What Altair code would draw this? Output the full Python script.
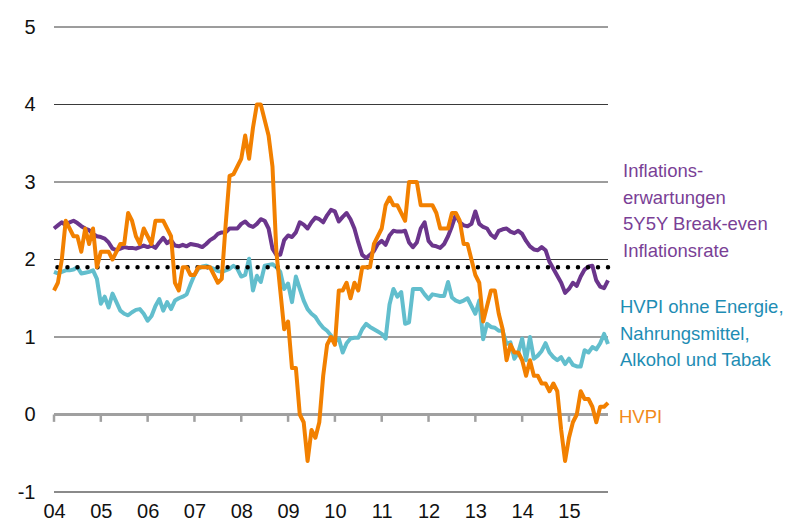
import altair as alt
import pandas as pd

# month index 0 = first observation (x tick "04"), one step per month
hvpi = [1.6, 1.7, 2.0, 2.5, 2.4, 2.3, 2.3, 2.1, 2.4, 2.2, 2.4,
        1.9, 2.1, 2.1, 2.1, 2.0, 2.1, 2.2, 2.2, 2.6, 2.5, 2.3, 2.2,
        2.4, 2.3, 2.2, 2.5, 2.5, 2.5, 2.4, 2.3, 1.7, 1.6, 1.9, 1.9,
        1.8, 1.8, 1.9, 1.9, 1.9, 1.9, 1.8, 1.7, 1.75, 2.45, 3.08, 3.1,
        3.2, 3.3, 3.6, 3.3, 3.7, 4.0, 4.0, 3.8, 3.6, 3.2, 2.1, 1.6,
        1.1, 1.2, 0.6, 0.6, 0.0, -0.1, -0.6, -0.2, -0.3, -0.1, 0.5, 0.9,
        1.0, 0.9, 1.6, 1.6, 1.7, 1.5, 1.7, 1.6, 1.9, 1.9, 1.9, 2.2,
        2.3, 2.4, 2.7, 2.8, 2.7, 2.7, 2.6, 2.5, 3.0, 3.0, 3.0, 2.7,
        2.7, 2.7, 2.7, 2.6, 2.4, 2.4, 2.4, 2.6, 2.6, 2.5, 2.2, 2.2,
        2.0, 1.8, 1.7, 1.2, 1.4, 1.6, 1.6, 1.3, 1.1, 0.7, 0.9, 0.8,
        0.8, 0.7, 0.5, 0.7, 0.5, 0.5, 0.4, 0.4, 0.3, 0.4, 0.3, -0.2,
        -0.6, -0.3, -0.1, 0.0, 0.3, 0.2, 0.2, 0.1, -0.1, 0.1, 0.1, 0.15]

core = [1.84, 1.82, 1.84, 1.86, 1.86, 1.87, 1.90, 1.82, 1.83, 1.84,
        1.86, 1.75, 1.43, 1.52, 1.38, 1.56, 1.45, 1.34, 1.30, 1.28,
        1.32, 1.35, 1.36, 1.30, 1.21, 1.27, 1.40, 1.49, 1.34, 1.45,
        1.36, 1.47, 1.50, 1.52, 1.55, 1.68, 1.80, 1.88, 1.91, 1.92,
        1.90, 1.88, 1.85, 1.84, 1.86, 1.88, 1.92, 1.88, 1.78, 1.80,
        2.01, 1.60, 1.79, 1.71, 1.92, 1.93, 1.94, 1.90, 1.84, 1.62,
        1.69, 1.45, 1.78, 1.62, 1.47, 1.36, 1.30, 1.26, 1.18, 1.12,
        1.08, 1.02, 0.94, 0.98, 0.80, 0.92, 0.98, 0.99, 0.99, 1.10,
        1.17, 1.13, 1.10, 1.07, 1.04, 0.98, 1.42, 1.62, 1.52, 1.58,
        1.17, 1.19, 1.62, 1.62, 1.62, 1.55, 1.49, 1.55, 1.54, 1.53,
        1.53, 1.71, 1.51, 1.47, 1.45, 1.47, 1.50, 1.40, 1.30, 1.47,
        0.97, 1.17, 1.13, 1.12, 1.08, 1.08, 0.91, 0.93, 0.72, 0.80,
        0.98, 0.70, 1.00, 0.72, 0.76, 0.82, 0.92, 0.80, 0.74, 0.70,
        0.74, 0.65, 0.72, 0.64, 0.62, 0.62, 0.83, 0.80, 0.87, 0.84,
        0.92, 1.04, 0.91]

breakeven = [2.40, 2.44, 2.48, 2.44, 2.48, 2.50, 2.47, 2.43, 2.40, 2.38,
             2.33, 2.30, 2.29, 2.27, 2.22, 2.14, 2.12, 2.14, 2.16, 2.15,
             2.15, 2.14, 2.16, 2.18, 2.16, 2.18, 2.15, 2.22, 2.28, 2.21,
             2.25, 2.18, 2.17, 2.19, 2.17, 2.20, 2.19, 2.18, 2.16, 2.20,
             2.25, 2.28, 2.33, 2.35, 2.35, 2.40, 2.40, 2.40, 2.46, 2.49,
             2.44, 2.42, 2.46, 2.52, 2.50, 2.40, 2.14, 2.06, 2.06, 2.25,
             2.31, 2.29, 2.35, 2.48, 2.45, 2.40, 2.48, 2.54, 2.52, 2.48,
             2.57, 2.64, 2.62, 2.49, 2.55, 2.60, 2.52, 2.40, 2.22, 2.06,
             2.02, 2.06, 2.11, 2.20, 2.24, 2.19, 2.31, 2.37, 2.36, 2.36,
             2.37, 2.22, 2.16, 2.22, 2.40, 2.48, 2.24, 2.18, 2.17, 2.15,
             2.20, 2.30, 2.43, 2.58, 2.48, 2.44, 2.43, 2.46, 2.62, 2.46,
             2.42, 2.40, 2.32, 2.28, 2.37, 2.39, 2.40, 2.36, 2.34, 2.37,
             2.33, 2.24, 2.17, 2.13, 2.12, 2.16, 2.12, 1.97, 1.88, 1.79,
             1.70, 1.57, 1.62, 1.70, 1.66, 1.78, 1.87, 1.91, 1.92, 1.73,
             1.65, 1.63, 1.73]

year_labels = ["04", "05", "06", "07", "08", "09", "10", "11", "12", "13", "14", "15"]
year_ticks = [12 * k for k in range(len(year_labels))]
y_ticks = [-1, 0, 1, 2, 3, 4, 5]
grid_values = [1, 2, 3, 4, 5]
target = [1.9]

label_breakeven = ["Inflations-", "erwartungen", "5Y5Y Break-even", "Inflationsrate"]
label_core = ["HVPI ohne Energie,", "Nahrungsmittel,", "Alkohol und Tabak"]
label_hvpi = ["HVPI"]

C_PURPLE = "#6B358C"
C_TEAL = "#62BECD"
C_ORANGE = "#F28000"
T_PURPLE = "#7A3F96"
T_TEAL = "#1E8DB4"
T_ORANGE = "#F28A1A"

FONT = "Liberation Sans, Arial, sans-serif"

n = len(hvpi)
df = pd.DataFrame({"i": list(range(n)), "hvpi": hvpi, "core": core, "be": breakeven})
label_js = "[" + ",".join("'" + s + "'" for s in year_labels) + "]"

x_scale = alt.Scale(domain=[0, n - 1], nice=False, zero=False)
x_enc = alt.X("i:Q", scale=x_scale,
              axis=alt.Axis(values=year_ticks,
                            labelExpr=label_js + "[round(datum.value/12)]",
                            ticks=False, domain=False, grid=False, title=None,
                            labelFont=FONT, labelFontSize=20, labelColor="#111111",
                            labelPadding=9, labelFlush=False))
y_scale = alt.Scale(domain=[-1, 5], nice=False, zero=False)
y_axis = alt.Axis(values=y_ticks, labelExpr="'' + datum.value", ticks=False, domain=False,
                  grid=False, title=None, labelFont=FONT, labelFontSize=20,
                  labelColor="#111111", labelPadding=19)

base = alt.Chart(df)

grid = alt.Chart(pd.DataFrame({"v": grid_values})).mark_rule(
    color="#3a3a3a", strokeWidth=1).encode(y=alt.Y("v:Q", scale=y_scale, axis=y_axis))
bottom = alt.Chart(pd.DataFrame({"v": [-1]})).mark_rule(
    color="#8a8a8a", strokeWidth=2).encode(y=alt.Y("v:Q", scale=y_scale))
zero = alt.Chart(pd.DataFrame({"v": [0]})).mark_rule(
    color="#a0a0a0", strokeWidth=3).encode(y=alt.Y("v:Q", scale=y_scale))
ticks = alt.Chart(pd.DataFrame({"t": year_ticks, "y0": 0.0, "y1": -0.095})).mark_rule(
    color="#a0a0a0", strokeWidth=2.5).encode(
    x=alt.X("t:Q", scale=x_scale),
    y=alt.Y("y0:Q", scale=y_scale), y2="y1:Q")

line_core = base.mark_line(color=C_TEAL, strokeWidth=4, strokeJoin="round").encode(
    x=x_enc, y=alt.Y("core:Q", scale=y_scale, axis=y_axis))
line_be = base.mark_line(color=C_PURPLE, strokeWidth=4, strokeJoin="round").encode(
    x="i:Q", y=alt.Y("be:Q", scale=y_scale))
line_hvpi = base.mark_line(color=C_ORANGE, strokeWidth=4, strokeJoin="round").encode(
    x="i:Q", y=alt.Y("hvpi:Q", scale=y_scale))

dots = alt.Chart(pd.DataFrame({"v": target})).mark_rule(
    color="black", strokeWidth=4.5, strokeDash=[0.01, 10], strokeCap="round").encode(
    y=alt.Y("v:Q", scale=y_scale))

def label(lines, color, px, py):
    return alt.Chart(pd.DataFrame({"a": [0]})).mark_text(
        text=lines, align="left", baseline="alphabetic", font=FONT, fontSize=18.5,
        lineHeight=26.5, color=color).encode(x=alt.value(px), y=alt.value(py))

t1 = label(label_breakeven, T_PURPLE, 569, 150)
t2 = label(label_core, T_TEAL, 566, 286)
t3 = label(label_hvpi, T_ORANGE, 565, 396)

chart = alt.layer(grid, bottom, zero, ticks, line_core, line_be, dots, line_hvpi, t1, t2, t3).properties(
    width=554, height=465,
    padding={"left": 46, "top": 19, "right": 176, "bottom": 28},
    autosize=alt.AutoSizeParams(type="none"),
    background="white",
).configure_view(stroke=None)

chart.save("out.html", embed_options={"renderer": "svg", "actions": False})
